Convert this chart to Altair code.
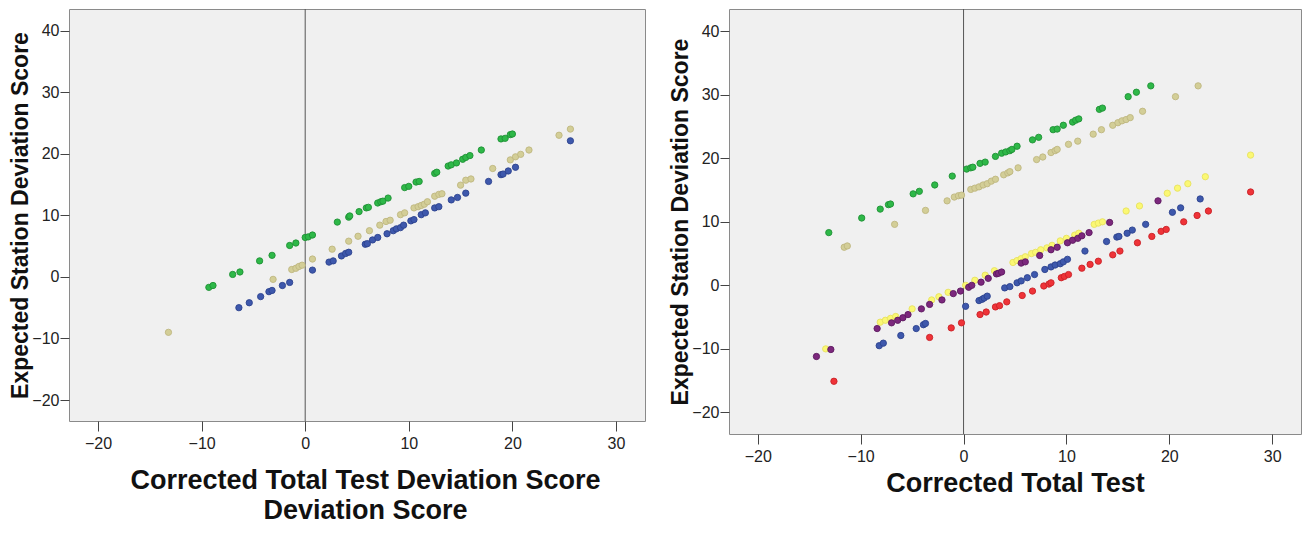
import altair as alt
import pandas as pd

# ---------------- data: left panel ----------------
L_green_x = [-9.3, -8.9, -7.0, -6.3, -4.4, -3.2, -1.5, -0.9, 0.0, 0.3, 0.7, 3.1, 4.2, 4.3, 5.2, 5.9, 6.1, 7.0, 7.3, 7.5,
             8.0, 9.6, 10.0, 10.7, 11.0, 12.5, 12.7, 13.8, 14.1, 14.6, 15.2, 15.5, 15.9, 17.0, 18.9, 19.3, 19.8, 20.0]
L_green_y = [-1.7, -1.4, 0.4, 0.8, 2.6, 3.5, 5.1, 5.5, 6.4, 6.5, 6.8, 8.9, 9.7, 9.9, 10.6, 11.2, 11.3, 12.0, 12.2, 12.3,
             12.8, 14.5, 14.7, 15.4, 15.5, 16.8, 17.0, 18.0, 18.2, 18.5, 19.1, 19.4, 19.7, 20.6, 22.4, 22.5, 23.1, 23.2]

L_beige_x = [-13.2, -3.1, -1.3, -0.9, -0.6, -0.3, 0.7, 2.6, 4.2, 5.1, 6.2, 7.2, 7.8, 8.2, 9.2, 9.6, 10.5, 10.9, 11.2,
             11.5, 11.8, 12.5, 12.9, 13.2, 15.0, 15.5, 16.0, 18.1, 19.8, 20.3, 20.8, 21.6, 24.5, 25.6]
L_beige_y = [-9.0, -0.4, 1.2, 1.4, 1.7, 1.9, 2.9, 4.5, 5.8, 6.6, 7.5, 8.4, 9.0, 9.2, 10.1, 10.4, 11.2, 11.4, 11.6,
             11.8, 12.2, 13.1, 13.4, 13.5, 14.9, 15.7, 15.9, 17.6, 19.0, 19.5, 19.9, 20.6, 23.0, 24.0]

L_blue_x = [-6.4, -5.4, -4.3, -3.5, -3.2, -2.2, -1.5, 0.7, 2.3, 2.7, 3.5, 3.9, 4.2, 5.8, 6.0, 6.5, 7.0, 7.9, 8.5, 8.8,
            9.2, 9.5, 10.2, 10.5, 11.2, 11.6, 12.5, 12.9, 14.1, 14.7, 15.5, 17.7, 18.9, 19.1, 19.6, 20.3, 25.6]
L_blue_y = [-5.0, -4.2, -3.2, -2.4, -2.2, -1.4, -0.9, 1.1, 2.4, 2.6, 3.4, 3.8, 4.0, 5.3, 5.4, 6.0, 6.4, 7.0, 7.5, 7.8,
            8.0, 8.4, 9.1, 9.3, 10.1, 10.4, 11.2, 11.4, 12.5, 12.9, 13.6, 15.5, 16.6, 16.7, 17.2, 17.8, 22.1]

# ---------------- data: right panel ----------------
R_green_x = [-13.1, -9.9, -8.1, -7.3, -7.1, -4.9, -4.3, -2.8, -1.1, 0.3, 0.7, 0.9, 1.6, 2.1, 3.1, 3.7, 4.1, 4.5, 4.7,
             5.2, 6.7, 7.3, 8.7, 9.1, 9.7, 10.6, 10.9, 11.2, 13.2, 13.5, 16.0, 16.8, 18.2]
R_green_y = [8.3, 10.6, 12.0, 12.7, 12.8, 14.4, 14.8, 15.8, 17.2, 18.3, 18.5, 18.6, 19.2, 19.4, 20.3, 20.8, 21.0, 21.2,
             21.4, 21.9, 22.9, 23.3, 24.5, 24.6, 25.2, 25.7, 26.0, 26.2, 27.7, 27.9, 29.7, 30.4, 31.4]

R_beige_x = [-11.6, -11.3, -6.7, -3.7, -1.6, -0.9, -0.5, -0.2, 0.7, 1.1, 1.5, 1.9, 2.3, 2.7, 3.1, 3.9, 4.3, 4.5, 5.3,
             7.1, 7.7, 8.5, 8.9, 9.1, 10.2, 11.1, 12.6, 13.4, 14.5, 15.0, 15.4, 15.8, 16.2, 17.4, 20.6, 22.8]
R_beige_y = [6.0, 6.2, 9.6, 11.8, 13.3, 13.9, 14.1, 14.2, 15.1, 15.3, 15.5, 15.8, 16.0, 16.4, 16.7, 17.4, 17.7, 17.9,
             18.5, 19.8, 20.2, 20.9, 21.2, 21.4, 22.2, 22.7, 23.8, 24.5, 25.2, 25.6, 25.9, 26.1, 26.4, 27.4, 29.7, 31.4]

R_blue_x = [-8.2, -7.8, -6.1, -4.6, -3.9, -3.7, 0.2, 1.5, 1.8, 2.0, 2.3, 4.0, 4.5, 5.2, 5.6, 6.2, 6.9, 7.9, 8.5, 8.9,
            9.4, 9.7, 10.1, 11.8, 13.9, 14.9, 15.1, 15.9, 16.4, 17.7, 20.3, 21.1, 23.0]
R_blue_y = [-9.5, -9.1, -7.9, -6.8, -6.2, -6.0, -3.3, -2.4, -2.2, -2.0, -1.7, -0.4, -0.2, 0.4, 0.7, 1.2, 1.7, 2.5, 2.9,
            3.2, 3.4, 3.7, 4.1, 5.4, 6.9, 7.6, 7.7, 8.2, 8.7, 9.6, 11.5, 12.2, 13.6]

R_yellow_x = [-13.4, -8.1, -7.6, -7.1, -6.6, -5.0, -3.1, -2.4, -1.5, 0.2, 1.1, 2.1, 3.0, 4.8, 5.2, 5.6, 6.0, 6.6, 7.0,
              7.5, 8.1, 8.6, 9.4, 10.0, 10.8, 11.2, 12.7, 13.1, 13.5, 15.8, 17.1, 19.8, 20.8, 21.8, 23.5, 27.9]
R_yellow_y = [-10.0, -5.8, -5.5, -5.2, -4.9, -3.7, -2.3, -1.8, -1.1, 0.0, 0.8, 1.6, 2.3, 3.6, 3.9, 4.2, 4.5, 5.0, 5.2,
              5.6, 5.9, 6.3, 7.0, 7.4, 7.9, 8.2, 9.6, 9.8, 10.0, 11.7, 12.5, 14.5, 15.3, 16.0, 17.1, 20.5]

R_purple_x = [-14.3, -12.9, -8.4, -7.0, -6.4, -5.9, -5.4, -4.1, -3.3, -2.1, -1.0, -0.3, 0.5, 0.8, 1.7, 2.4, 3.2, 3.4,
              3.7, 5.6, 6.0, 7.4, 8.5, 9.1, 10.1, 10.6, 11.1, 11.5, 12.2, 14.2, 18.9]
R_purple_y = [-11.2, -10.1, -6.8, -5.9, -5.5, -5.1, -4.6, -3.7, -3.0, -2.3, -1.3, -0.9, -0.3, 0.0, 0.5, 1.1, 1.8, 1.9,
              2.1, 3.5, 3.7, 4.7, 5.6, 6.0, 6.7, 7.1, 7.4, 7.8, 8.3, 9.9, 13.3]

R_red_x = [-12.6, -3.3, -1.2, -0.2, 1.6, 2.2, 3.1, 3.5, 4.2, 5.7, 6.7, 7.8, 8.3, 8.5, 9.5, 9.8, 10.2, 11.5, 12.3, 13.1,
           14.5, 15.2, 16.9, 18.3, 19.2, 19.7, 21.4, 22.7, 23.8, 27.9]
R_red_y = [-15.1, -8.2, -6.7, -5.9, -4.6, -4.2, -3.4, -3.2, -2.6, -1.6, -0.9, -0.1, 0.2, 0.4, 1.2, 1.4, 1.7, 2.7, 3.3,
           3.8, 4.8, 5.4, 6.7, 7.7, 8.5, 8.8, 10.0, 11.0, 11.7, 14.7]

X_TICKS = [-20, -10, 0, 10, 20, 30]
Y_TICKS = [-20, -10, 0, 10, 20, 30, 40]
X_DOMAIN = [-22.8, 32.8]
Y_DOMAIN = [-23.4, 43.5]

SERIES_COLORS = {
    "green": ("#2EB848", "#1F9136"),
    "beige": ("#D3CE97", "#BEB780"),
    "blue": ("#3E58AC", "#2C438E"),
    "yellow": ("#FBF873", "#E6E160"),
    "purple": ("#7C287D", "#5E1A60"),
    "red": ("#EF3338", "#C92328"),
}

Y_TITLE = "Expected Station Deviation Score"


def panel(series, width, height, xtitle, title_y, title_x):
    rows = []
    for order, (name, xs, ys) in enumerate(series):
        for xv, yv in zip(xs, ys):
            rows.append({"x": xv, "y": yv, "s": name, "o": order})
    df = pd.DataFrame(rows)
    names = [s[0] for s in series]
    fills = [SERIES_COLORS[n][0] for n in names]
    strokes = [SERIES_COLORS[n][1] for n in names]

    xscale = alt.Scale(domain=X_DOMAIN, nice=False, zero=False)
    yscale = alt.Scale(domain=Y_DOMAIN, nice=False, zero=False)
    xaxis = alt.Axis(values=X_TICKS, title=xtitle, tickSize=10, labelPadding=4,
                     titleFontSize=27, titleLineHeight=30, titleBaseline="top",
                     titleY=title_y, titleX=title_x)
    yaxis = alt.Axis(values=Y_TICKS, title=Y_TITLE, tickSize=9, labelPadding=1,
                     titleFontSize=23, titleX=-42, titleBaseline="alphabetic")

    rule = alt.Chart(pd.DataFrame({"x": [0]})).mark_rule(color="#555555", strokeWidth=1).encode(
        x=alt.X("x:Q", scale=xscale, axis=xaxis)
    )
    pts = alt.Chart(df).mark_point(filled=True, size=40, opacity=1, strokeWidth=0.9).encode(
        x=alt.X("x:Q", scale=xscale, axis=xaxis),
        y=alt.Y("y:Q", scale=yscale, axis=yaxis),
        fill=alt.Fill("s:N", scale=alt.Scale(domain=names, range=fills), legend=None),
        stroke=alt.Stroke("s:N", scale=alt.Scale(domain=names, range=strokes), legend=None),
        order=alt.Order("o:Q"),
    )
    return alt.layer(rule, pts).properties(width=width, height=height)


left = panel(
    [("green", L_green_x, L_green_y), ("beige", L_beige_x, L_beige_y), ("blue", L_blue_x, L_blue_y)],
    576, 412, ["Corrected Total Test Deviation Score", "Deviation Score"], 46, 296,
)
right = panel(
    [("green", R_green_x, R_green_y), ("beige", R_beige_x, R_beige_y), ("blue", R_blue_x, R_blue_y),
     ("yellow", R_yellow_x, R_yellow_y), ("purple", R_purple_x, R_purple_y), ("red", R_red_x, R_red_y)],
    572, 425, "Corrected Total Test", 36, 286,
)

chart = alt.hconcat(left, right, spacing=22).resolve_scale(fill="independent", stroke="independent").properties(
    padding={"left": 0, "top": 0, "right": 0, "bottom": 0},
    autosize=alt.AutoSizeParams(type="pad"),
).configure_view(
    fill="#F0F0F0", stroke="#8A8A8A", strokeWidth=1
).configure_axis(
    grid=False, domain=False, tickColor="#444444", tickWidth=1,
    labelFont="Liberation Sans", labelFontSize=16, labelColor="#222222",
    titleFont="Liberation Sans", titleFontWeight="bold", titleColor="#111111",
)

chart.save("out.html", embed_options={"renderer": "svg", "actions": False})
